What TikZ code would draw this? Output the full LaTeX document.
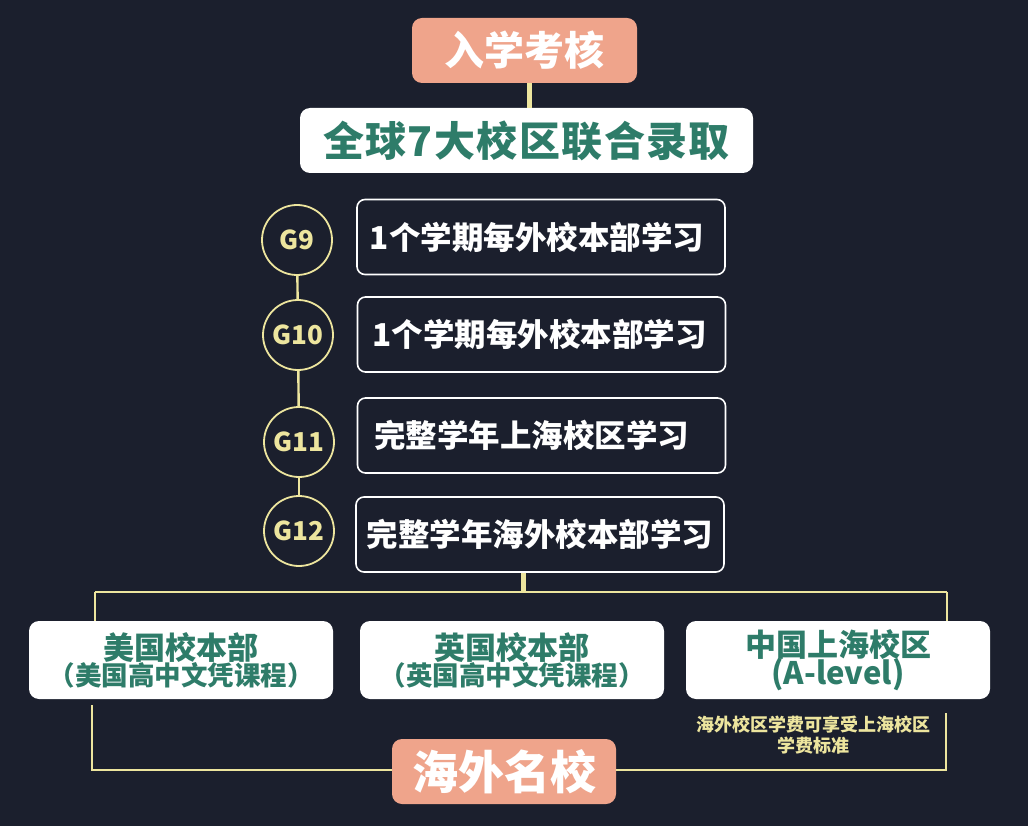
\documentclass[tikz,border=0pt]{standalone}
\usepackage{fontspec}
\setmainfont{Noto Sans CJK SC}
\definecolor{bg}{HTML}{1B1F2D}
\definecolor{salmon}{HTML}{EFA48B}
\definecolor{tgreen}{HTML}{2E7C69}
\definecolor{ylw}{HTML}{EDE59E}
\begin{document}
\begin{tikzpicture}[x=1pt,y=-1pt,
  fs/.style={font=\bfseries\fontsize{#1}{#1}\selectfont},
  salmonbox/.style={fill=salmon,rounded corners=10pt,text=white,inner sep=0pt},
  whitebox/.style={fill=white,rounded corners=10pt,text=tgreen,inner sep=0pt},
  gradebox/.style={draw=white,line width=1.6pt,fill=bg,rounded corners=8pt,text=white,inner sep=0pt,minimum width=368pt,minimum height=75pt,fs=31.5},
  gcirc/.style={circle,draw=ylw,line width=1.8pt,fill=bg,text=ylw,minimum size=70pt,inner sep=0pt,fs=26},
  thinline/.style={draw=ylw,line width=2.4pt},
  thickline/.style={draw=ylw,line width=5pt}
]
\fill[bg] (0,0) rectangle (1028,826);
\useasboundingbox (0,0) rectangle (1028,826);

% top boxes
\node[salmonbox,minimum width=225pt,minimum height=65pt,fs=40] (entry) at (524.5,50.5) {入学考核};
\node[whitebox,minimum width=453pt,minimum height=65pt,fs=41] (glob) at (526.5,140.5) {\addfontfeature{LetterSpace=3.5}全球7大校区联合录取};
\coordinate (c1) at (529,83);
\coordinate (c2) at (529,108);
\draw[thickline] (c1) -- (c2);

% grade boxes
\node[gradebox] (g1) at (541,237) {\hspace*{-8pt}1个学期每外校本部学习};
\node[gradebox] (g2) at (541.5,334.5) {\hspace*{-4pt}1个学期每外校本部学习};
\node[gradebox] (g3) at (541.5,435.5) {\hspace*{-20pt}完整学年上海校区学习};
\node[gradebox] (g4) at (540,534.5) {完整学年海外校本部学习};

% circles
\node[gcirc] (c9) at (297,240) {G9};
\node[gcirc] (c10) at (298,335) {G10};
\node[gcirc] (c11) at (299,442) {G11};
\node[gcirc] (c12) at (299,531) {G12};
\draw[thinline] (c9) -- (c10);
\draw[thinline] (c10) -- (c11);
\draw[thinline] (c11) -- (c12);

% branch
\coordinate (hub) at (523,592);
\coordinate (L1) at (95,592);
\coordinate (R1) at (947,592);
\draw[thickline] (g4.south -| hub) -- (hub);

\node[whitebox,minimum width=304pt,minimum height=78pt,align=center] (b1) at (181,660)
  {{\bfseries\fontsize{31}{31}\selectfont 美国校本部}\\[-1pt]{\bfseries\fontsize{26.5}{29}\selectfont（美国高中文凭课程）}};
\node[whitebox,minimum width=304pt,minimum height=78pt,align=center] (b2) at (512,660)
  {{\bfseries\fontsize{31}{31}\selectfont 英国校本部}\\[-1pt]{\bfseries\fontsize{26.5}{29}\selectfont（英国高中文凭课程）}};
\node[whitebox,minimum width=304pt,minimum height=78pt,align=center] (b3) at (838,660)
  {{\bfseries\fontsize{31}{31}\selectfont 中国上海校区}\\[-2pt]{\bfseries\fontsize{31}{31}\selectfont (A-level)}};

\draw[thinline] (L1) -- (R1);
\draw[thinline] (L1) -- (L1 |- b1.north);
\draw[thinline] (R1) -- (R1 |- b3.north);

\node[text=ylw,align=center,inner sep=0pt,font=\bfseries\fontsize{18}{21}\selectfont] (note) at (813,735)
  {海外校区学费可享受上海校区\\学费标准};

\node[salmonbox,minimum width=224pt,minimum height=65pt,fs=46] (final) at (504,771.5) {海外名校};

\coordinate (L2) at (92,770);
\coordinate (R2) at (946,770);
\coordinate (R3) at (946,713);
\draw[thinline] (b1.south -| L2) ++(0,6) -- (L2) -- (final.west |- L2);
\draw[thinline] (R3) -- (R2) -- (final.east |- R2);
\end{tikzpicture}
\end{document}
